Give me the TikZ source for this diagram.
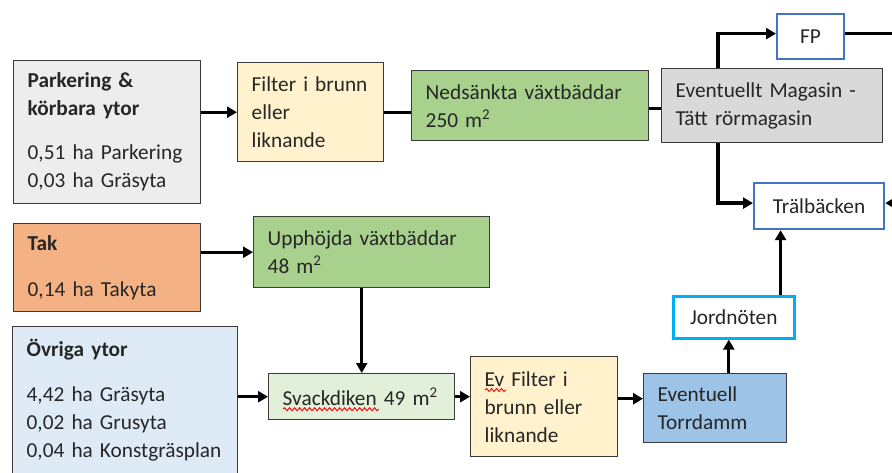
\documentclass[tikz,border=0pt]{standalone}
\usepackage{fontspec}
\setmainfont{Carlito}
\usepackage{xcolor}
\usetikzlibrary{arrows.meta,positioning,calc,decorations.pathmorphing}
\definecolor{parkgray}{HTML}{EDEDED}
\definecolor{filtyellow}{HTML}{FFF2CC}
\definecolor{bedgreen}{HTML}{A9D18E}
\definecolor{ditchgreen}{HTML}{E2F0D9}
\definecolor{maggray}{HTML}{D9D9D9}
\definecolor{roofred}{HTML}{F4B183}
\definecolor{restblue}{HTML}{DEEBF7}
\definecolor{pondblue}{HTML}{9DC3E6}
\definecolor{outblue}{HTML}{4472C4}
\definecolor{jordcyan}{HTML}{00B0F0}
\definecolor{boxline}{HTML}{3A3A3A}
\tikzset{
    box/.style={
        rectangle,
        draw=boxline,
        line width=1.4pt,
        anchor=north west,
        inner xsep=14pt,
        inner ysep=0pt,
        align=left,
        text=black!85,
        font=\fontsize{21.3}{28}\selectfont,
    },
    endbox/.style={
        rectangle,
        fill=white,
        line width=2.2pt,
        anchor=north west,
        inner sep=0pt,
        align=center,
        text=black!85,
        font=\fontsize{21.3}{28}\selectfont,
    },
    flow/.style={->, line width=3.3pt},
    pipe/.style={line width=3.3pt},
    spellwave/.style={red, line width=0.9pt, decorate,
        decoration={snake, amplitude=1.5pt, segment length=5pt}},
}

\begin{document}
\begin{tikzpicture}[x=1pt,y=-1pt,>={Triangle[length=10pt,width=11pt]}]
    \useasboundingbox (0,0) rectangle (892,472);
    \clip (0,0) rectangle (892,472);
    \node [box, fill=parkgray, text width=159pt, minimum height=143pt] (Pk) at (13,60)
        {\textbf{Parkering \&}\\\textbf{körbara ytor}\\[16pt]0,51 ha Parkering\\0,03 ha Gräsyta};
    \node [box, fill=filtyellow, text width=118pt, minimum height=99pt] (Fi) at (237,62)
        {Filter i brunn\\eller\\liknande};
    \node [box, fill=bedgreen, text width=209pt, minimum height=70pt] (Ns) at (411,70)
        {Nedsänkta växtbäddar\\250 m\textsuperscript{2}};
    \node [box, fill=maggray, text width=193pt, minimum height=74pt] (Mg) at (661,68)
        {Eventuellt Magasin -\\Tätt rörmagasin};
    \node [endbox, draw=outblue, minimum width=67pt, minimum height=45pt] (FP) at (776,13) {FP};
    \node [endbox, draw=outblue, minimum width=130pt, minimum height=46pt] (Tb) at (753,182) {Trälbäcken};
    \node [box, fill=roofred, text width=159pt, minimum height=88pt] (Tk) at (13,223)
        {\textbf{Tak}\\[18pt]0,14 ha Takyta};
    \node [box, fill=bedgreen, text width=208pt, minimum height=71pt] (Uv) at (253,216)
        {Upphöjda växtbäddar\\48 m\textsuperscript{2}};
    \node [box, fill=restblue, text width=197pt, inner ysep=8pt, text height=21.5pt, text depth=150pt] (Ov) at (12,326)
        {\textbf{Övriga ytor}\\[17pt]4,42 ha Gräsyta\\0,02 ha Grusyta\\0,04 ha Konstgräsplan};
    \node [box, fill=ditchgreen, text width=158pt, minimum height=46pt] (Sv) at (268,373)
        {Svackdiken 49 m\textsuperscript{2}};
    \node [box, fill=filtyellow, text width=119pt, minimum height=100pt] (EF) at (470,356)
        {Ev Filter i\\brunn eller\\liknande};
    \node [box, fill=pondblue, text width=115pt, minimum height=69pt] (Td) at (643,373)
        {Eventuell\\Torrdamm};
    \node [endbox, draw=jordcyan, line width=2.6pt, minimum width=121pt, minimum height=42pt] (Jn) at (672,295) {Jordnöten};

    % spelling marks under the words
    \draw[spellwave] ([xshift=15pt,yshift=-4pt]Sv.base west) -- ++(96,0);
    \draw[spellwave] ([xshift=15pt,yshift=-4pt]EF.base west) -- ++(21,0);

    \coordinate (JnOut) at ([xshift=-15pt]Jn.north east);
    \coordinate (JnIn) at ([xshift=-5pt]Jn.south);
    \coordinate (EFOut) at ([yshift=8pt]EF.east);
    \coordinate (NsOut) at ([yshift=-3pt]Ns.east);

    \draw[flow] (Pk.east |- Fi.west) -- (Fi.west);
    \draw[pipe] (Fi.east) -- (Fi.east -| Ns.west);
    \draw[pipe] (NsOut) -- (NsOut -| Mg.west);
    \draw[flow] ([xshift=57pt]Mg.north west) |- ([yshift=3pt]FP.west);
    \draw[flow] ([xshift=57pt]Mg.south west) |- ([yshift=3pt]Tb.west);
    \draw[flow] ([yshift=3pt]FP.east) -- ++(60,0) |- ([yshift=3pt]Tb.east);
    \draw[flow] (Tk.east |- Uv.west) -- (Uv.west);
    \draw[flow] (Uv.south -| Sv.north) -- (Sv.north);
    \draw[flow] (Ov.east |- Sv.west) -- (Sv.west);
    \draw[flow] (Sv.east) -- (Sv.east -| EF.west);
    \draw[flow] (EFOut) -- (EFOut -| Td.west);
    \draw[flow] (JnIn |- Td.north) -- (JnIn);
    \draw[flow] (JnOut) -- (JnOut |- Tb.south);
\end{tikzpicture}
\end{document}
